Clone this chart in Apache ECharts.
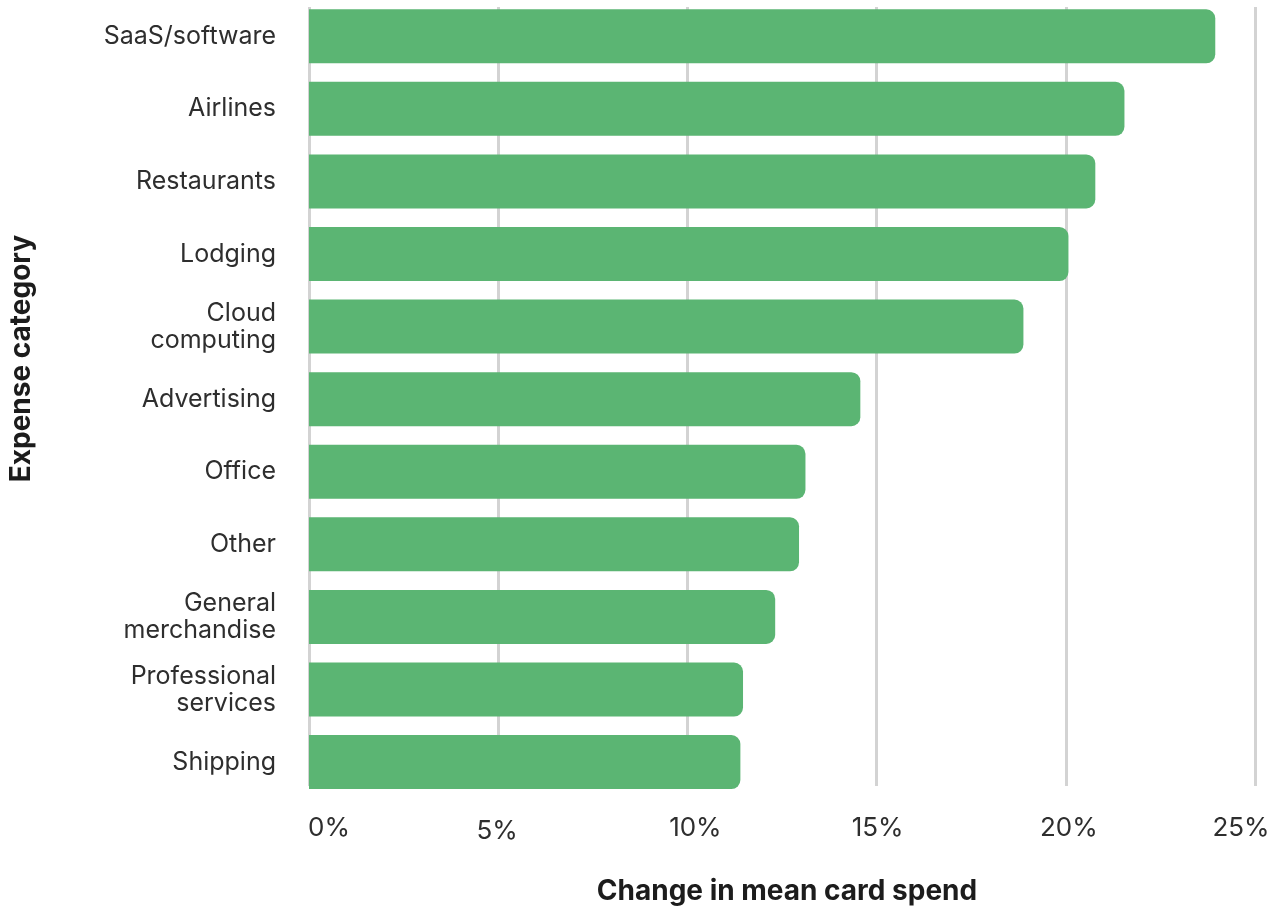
<!DOCTYPE html>
<html>
<head>
<meta charset="utf-8">
<script src="https://cdn.jsdelivr.net/npm/echarts@6/dist/echarts.min.js"></script>
<style>
  html, body { margin: 0; padding: 0; background: #fff; }
  #chart { width: 1280px; height: 911px; }
</style>
</head>
<body>
<div id="chart"></div>
<script>
// Expense categories, top to bottom
const categories = [
  'SaaS/software', 'Airlines', 'Restaurants', 'Lodging', 'Cloud\ncomputing',
  'Advertising', 'Office', 'Other', 'General\nmerchandise',
  'Professional\nservices', 'Shipping'
];
// Change in mean card spend, percent
const spendChange = [23.95, 21.55, 20.78, 20.07, 18.88, 14.57, 13.12, 12.95, 12.32, 11.47, 11.4];
// Horizontal axis ticks (percent)
const tickValues = [0, 5, 10, 15, 20, 25];
const tickLabels = ['0%', '5%', '10%', '15%', '20%', '25%'];

const FONT = 'Inter, "Noto Sans", sans-serif';
const GREEN = '#5bb573';
const TEXT = '#2e2e2e';

// small per-label nudges of the tick texts: [dx, dy]
const labelNudge = [[20, 0], [-1, 3], [8, 0], [1, 0], [3, 0], [-14, 0]];
const rich = {};
tickValues.forEach((v, i) => {
  const [dx, dy] = labelNudge[i];
  rich['t' + i] = {
    fontFamily: FONT, fontSize: 26, color: TEXT,
    padding: [dy, dx < 0 ? -2 * dx : 0, 0, dx > 0 ? 2 * dx : 0]
  };
});

const chart = echarts.init(document.getElementById('chart'), null, { renderer: 'canvas' });
chart.setOption({
  animation: false,
  backgroundColor: '#ffffff',
  grid: [
    // bars
    { left: 309, right: 25, top: -2.4, height: 800.8, containLabel: false },
    // gridlines and horizontal axis
    { left: 309, right: 25, top: 7, bottom: 123, containLabel: false }
  ],
  xAxis: [
    {
      gridIndex: 0, type: 'value', min: 0, max: 25, interval: 5,
      axisLine: { show: false }, axisTick: { show: false },
      axisLabel: { show: false }, splitLine: { show: false }
    },
    {
      gridIndex: 1, type: 'value', min: 0, max: 25, interval: 5,
      axisLine: { show: false }, axisTick: { show: false },
      splitLine: { show: true, lineStyle: { color: '#d3d3d3', width: 3 } },
      axisLabel: {
        margin: 29,
        formatter: v => {
          const i = tickValues.indexOf(v);
          return i < 0 ? '' : '{t' + i + '|' + tickLabels[i] + '}';
        },
        rich: rich
      },
      name: 'Change in mean card spend',
      nameLocation: 'middle',
      nameGap: 92,
      nameTextStyle: {
        fontFamily: FONT, fontSize: 28, fontWeight: 'bold', color: '#1c1c1c',
        padding: [0, 0, 0, 10]
      }
    }
  ],
  yAxis: [
    {
      gridIndex: 0, type: 'category', data: categories, inverse: true,
      axisLine: { show: false }, axisTick: { show: false },
      axisLabel: {
        margin: 33, fontFamily: FONT, fontSize: 25, color: TEXT,
        lineHeight: 27, align: 'right'
      }
    },
    {
      gridIndex: 1, type: 'category', data: categories, inverse: true, show: false
    }
  ],
  graphic: [
    {
      type: 'text',
      left: 8, top: 235,
      rotation: Math.PI / 2,
      style: {
        text: 'Expense category',
        fontFamily: FONT, fontSize: 28, fontWeight: 'bold', fill: '#1c1c1c'
      }
    }
  ],
  series: [
    {
      type: 'bar',
      xAxisIndex: 0, yAxisIndex: 0,
      data: spendChange,
      barWidth: 54,
      itemStyle: { color: GREEN, borderRadius: [0, 9, 9, 0] },
      z: 3
    }
  ]
});
</script>
</body>
</html>
